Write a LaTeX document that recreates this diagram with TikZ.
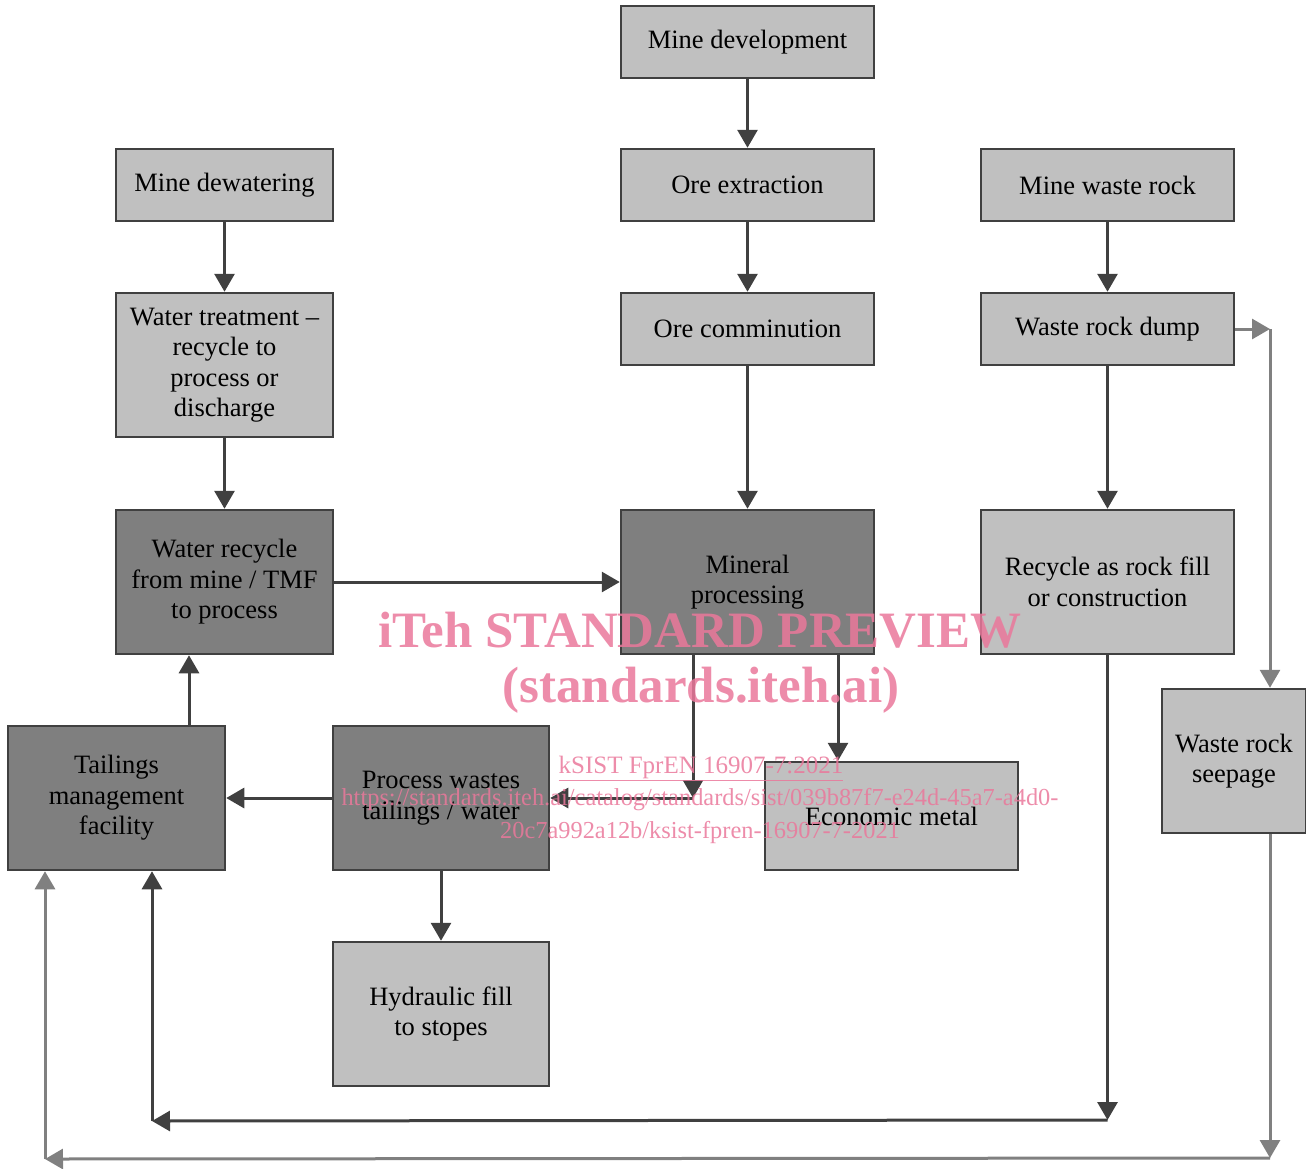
\documentclass[tikz,border=0pt]{standalone}
\usepackage{fontspec}
\setmainfont{Liberation Serif}
\usetikzlibrary{arrows.meta}
\definecolor{lightfill}{RGB}{192,192,192}
\definecolor{darkfill}{RGB}{127,127,127}
\definecolor{edgecol}{RGB}{64,64,64}
\definecolor{grayarr}{RGB}{128,128,128}
\definecolor{wmpink}{RGB}{234,120,155}
\tikzset{
  basebox/.style={draw=edgecol, line width=2.5pt, inner sep=0pt, align=center,
    font=\fontsize{26.5}{30.5}\selectfont, text=black},
  lbox/.style={basebox, fill=lightfill},
  dbox/.style={basebox, fill=darkfill},
  darr/.style={draw=edgecol, line width=3pt, -{Triangle[length=18pt,width=20pt]}},
  garr/.style={draw=grayarr, line width=3pt, -{Triangle[length=18pt,width=20pt]}},
  wm/.style={text=wmpink, text opacity=0.85, inner sep=0pt}
}
\begin{document}
\begin{tikzpicture}[x=1pt,y=-1pt]
\useasboundingbox (0,0) rectangle (1306,1168);
% boxes
\node[lbox, minimum width=253, minimum height=72] (md) at (747.5,42) {Mine development};
\node[lbox, minimum width=253, minimum height=72] (oe) at (747.5,185) {Ore extraction};
\node[lbox, minimum width=253, minimum height=72] (oc) at (747.5,329) {Ore comminution};
\node[dbox, minimum width=253, minimum height=144] (mp) at (747.5,582) {Mineral\\processing};
\node[lbox, minimum width=217, minimum height=72] (mdw) at (224.5,185) {Mine dewatering};
\node[lbox, minimum width=217, minimum height=144] (wt) at (224.5,365) {Water treatment –\\recycle to\\process or\\discharge};
\node[dbox, minimum width=217, minimum height=144] (wr) at (224.5,582) {Water recycle\\from mine / TMF\\to process};
\node[lbox, minimum width=253, minimum height=72] (mwr) at (1107.5,185) {Mine waste rock};
\node[lbox, minimum width=253, minimum height=72] (wrd) at (1107.5,329) {Waste rock dump};
\node[lbox, minimum width=253, minimum height=144] (rrf) at (1107.5,582) {Recycle as rock fill\\or construction};
\node[lbox, minimum width=144, minimum height=144] (wrs) at (1234,761) {Waste rock\\seepage};
\node[dbox, minimum width=217, minimum height=144] (tmf) at (116.5,798) {Tailings\\management\\facility};
\node[dbox, minimum width=216, minimum height=144] (pw) at (441,798) {Process wastes\\tailings / water};
\node[lbox, minimum width=253, minimum height=108] (em) at (891.5,816) {Economic metal};
\node[lbox, minimum width=216, minimum height=144] (hf) at (441,1014) {Hydraulic fill\\to stopes};
% helper coordinates
\coordinate (c1) at (693,798);
\coordinate (c2) at (838,700);
\coordinate (c3) at (1270,329);
\coordinate (c4) at (1107.5,1120);
\coordinate (c5) at (152,1121);
\coordinate (c6) at (1270,1158);
\coordinate (c7) at (45,1159);
\coordinate (c8) at (189,700);
% connectors
\draw[darr] (md) -- (oe);
\draw[darr] (oe) -- (oc);
\draw[darr] (oc) -- (mp);
\draw[darr] (mdw) -- (wt);
\draw[darr] (wt) -- (wr);
\draw[darr] (wr) -- (mp);
\draw[darr] (mwr) -- (wrd);
\draw[darr] (wrd) -- (rrf);
\draw[garr] (wrd.east) -- (c3);
\draw[garr] (c3) -- (wrs.north -| c3);
\draw[darr] (mp.south -| c1) -- (c1);
\draw[darr] (c1) -- (pw);
\draw[darr] (mp.south -| c2) -- (em.north -| c2);
\draw[darr] (pw) -- (tmf);
\draw[darr] (pw) -- (hf);
\draw[darr] (tmf.north -| c8) -- (wr.south -| c8);
\draw[darr] (rrf.south) -- (c4);
\draw[darr] (c4) -- (c5);
\draw[darr] (c5) -- (tmf.south -| c5);
\draw[garr] (wrs.south -| c6) -- (c6);
\draw[garr] (c6) -- (c7);
\draw[garr] (c7) -- (tmf.south -| c7);
% watermark
\node[wm, font=\fontsize{51}{55}\selectfont\bfseries] (wm1) at (700,630) {iTeh STANDARD PREVIEW};
\node[wm, font=\fontsize{51}{55}\selectfont\bfseries] (wm2) at (701,690) {(standards.iteh.ai)};
\node[wm, font=\fontsize{25}{30}\selectfont] (wm3) at (701,768) {\underline{kSIST FprEN 16907-7:2021}};
\node[wm, font=\fontsize{24.4}{30}\selectfont] (wm4) at (700,800) {https://standards.iteh.ai/catalog/standards/sist/039b87f7-e24d-45a7-a4d0-};
\node[wm, font=\fontsize{24.4}{30}\selectfont] (wm5) at (700,832) {20c7a992a12b/ksist-fpren-16907-7-2021};
\end{tikzpicture}
\end{document}
